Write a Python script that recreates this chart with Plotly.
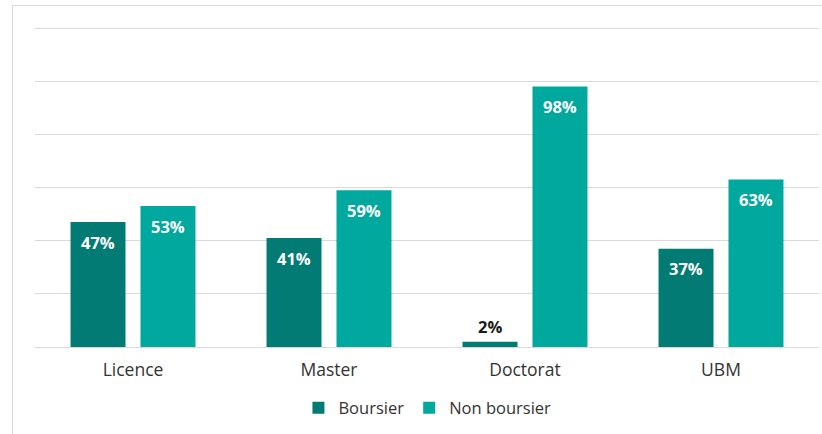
import plotly.graph_objects as go

categories = ["Licence", "Master", "Doctorat", "UBM"]
boursier = [47, 41, 2, 37]
non_boursier = [53, 59, 98, 63]
series_names = ["Boursier", "Non boursier"]
colors = ["#027B74", "#00A89D"]
grid_vals = [0, 20, 40, 60, 80, 100, 120]

BARGAP = 0.286
fig = go.Figure()
for name, vals, col in zip(series_names, [boursier, non_boursier], colors):
    fig.add_trace(go.Bar(x=categories, y=vals, name=name, marker_color=col,
                         marker_line_width=0, hoverinfo="skip"))

FONT = "Open Sans"
annotations = []
off = (1 - BARGAP) / 4
offsets = [-off, off]
for si, vals in enumerate([boursier, non_boursier]):
    for ci, v in enumerate(vals):
        inside = v >= 10
        annotations.append(dict(
            x=ci + offsets[si], y=v, xref="x", yref="y",
            text=f"<b>{v}%</b>", showarrow=False,
            font=dict(family=FONT, size=16.5, color="white" if inside else "#1a1a1a"),
            yanchor="middle", yshift=-20 if inside else 15,
        ))

PLOT_H = 434 - 20 - 87
PLOT_BOTTOM = 434 - 87
fig.update_layout(
    width=822, height=434,
    margin=dict(l=35, r=3, t=20, b=87, autoexpand=False),
    paper_bgcolor="white", plot_bgcolor="white",
    barmode="group", bargap=BARGAP, bargroupgap=0.214,
    font=dict(family=FONT, size=16, color="#333333"),
    xaxis=dict(showgrid=False, showline=False, ticks="", automargin=False,
               ticklabelstandoff=10,
               tickfont=dict(size=17.5, color="#333333")),
    yaxis=dict(range=[0, 123.01], tickvals=grid_vals, showticklabels=False,
               showgrid=True, automargin=False,
               gridcolor="#D9D9D9", gridwidth=1, zeroline=True, zerolinecolor="#D9D9D9",
               zerolinewidth=1),
    legend=dict(orientation="h", x=0.52, xanchor="center", xref="container",
                y=(434 - 408) / 434, yanchor="middle", yref="container",
                font=dict(size=16.5, color="#333333"), itemwidth=30, traceorder="normal"),
    annotations=annotations,
    shapes=[dict(type="rect", xref="paper", yref="paper", x0=-0.0287, x1=1.03,
                 y0=-0.3, y1=(PLOT_BOTTOM - 5.5) / PLOT_H, line=dict(color="#D9D9D9", width=1),
                 fillcolor="rgba(0,0,0,0)", layer="below")],
)

fig.write_html("out.html", config={"displayModeBar": False},
               post_script="document.body.style.margin='0px';")
